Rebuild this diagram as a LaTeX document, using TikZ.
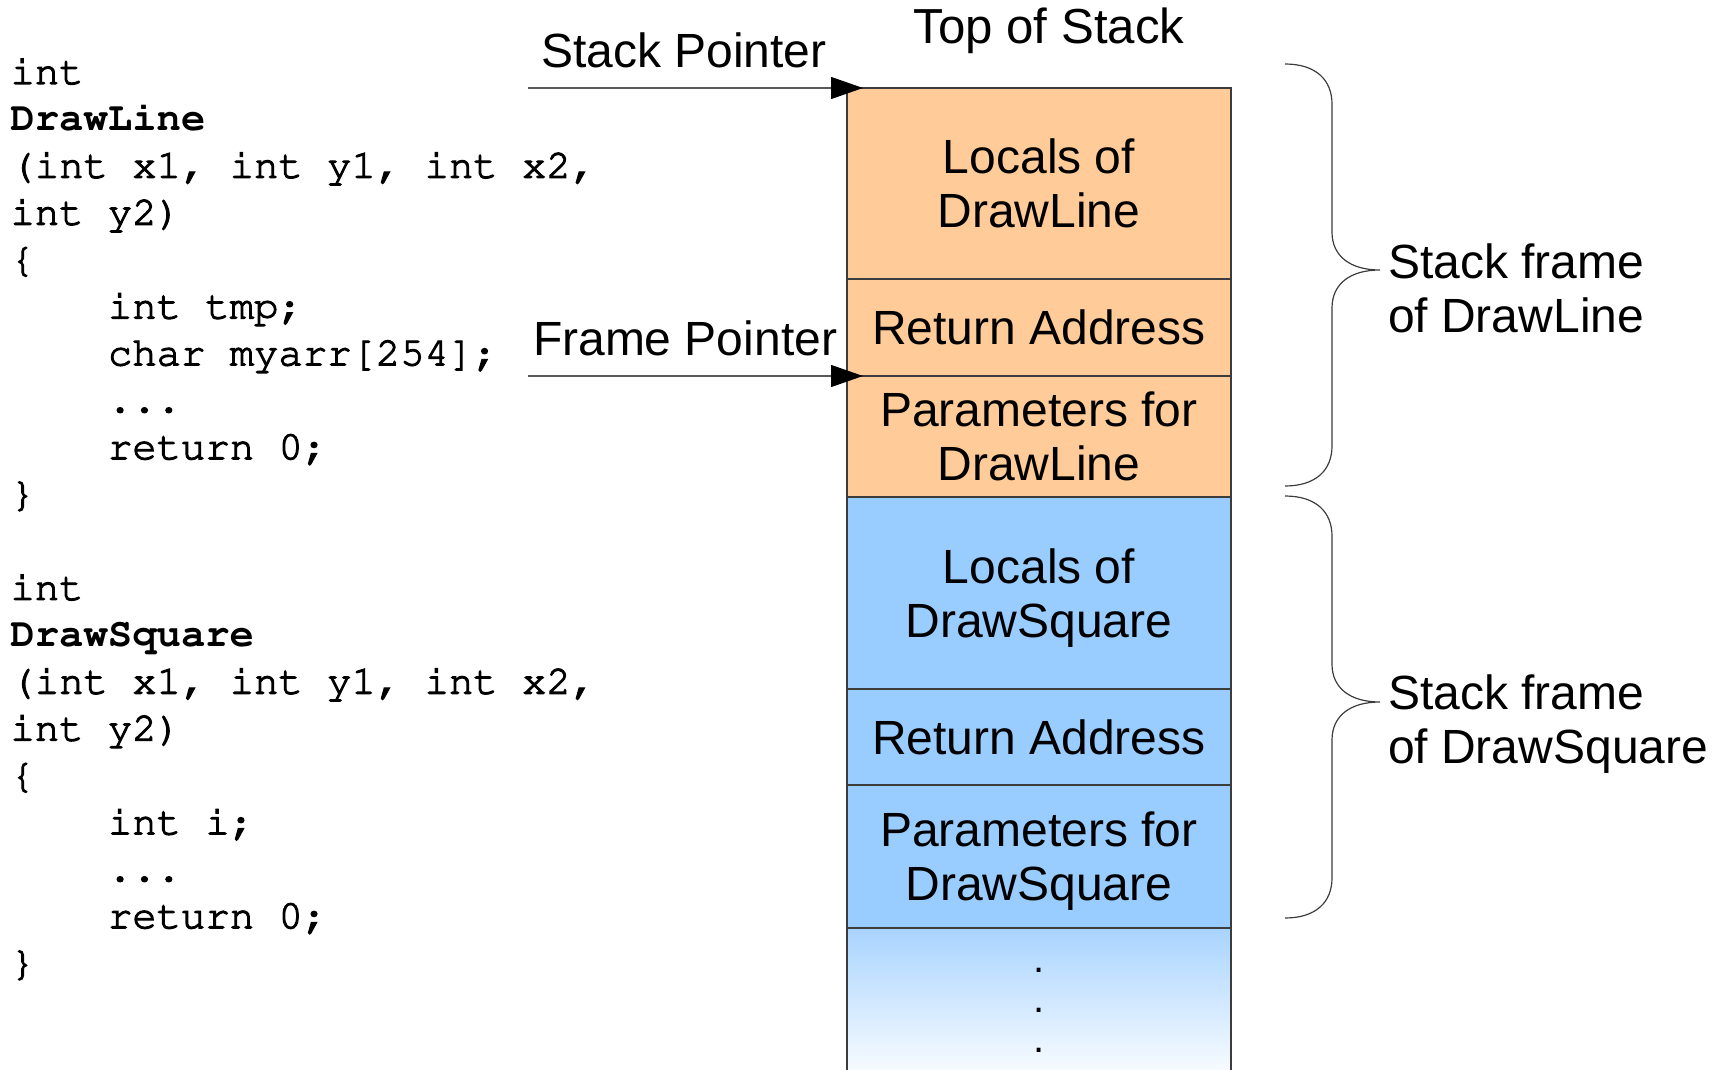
\documentclass[tikz,border=0pt]{standalone}
\usepackage[T1]{fontenc}
\usepackage{fontspec}
\setmainfont{Liberation Sans}
\usetikzlibrary{arrows.meta}

\definecolor{frameorange}{HTML}{FFCC99}
\definecolor{frameblue}{HTML}{99CCFF}
\definecolor{edgegray}{HTML}{3C3C3C}
\definecolor{ptrgray}{HTML}{5A5A5A}

\newcommand\labelfont{\fontsize{24pt}{27pt}\selectfont}
% Courier (Type 1) for the C listing
\newcommand\codesize{\fontencoding{T1}\fontfamily{pcr}\fontsize{20.3pt}{23.45pt}\selectfont}
\newcommand\ind{\hphantom{xxxx}}
% slightly heavier strokes for the listing (fill + stroke text mode)
\newcommand\heavyon{\special{pdf:literal direct 2 Tr 0.55 w}}
\newcommand\heavyoff{\special{pdf:literal direct 0 Tr}}
\newcommand\fname[1]{\heavyoff\bfseries #1}

\tikzset{
  cell/.style={draw=edgegray, line width=0.75pt, minimum width=192pt,
    inner sep=0pt, outer sep=0pt, align=center, text depth=0pt,
    font=\labelfont},
  orangecell/.style={cell, fill=frameorange},
  bluecell/.style={cell, fill=frameblue},
  lbl/.style={inner sep=0pt, outer sep=0pt, font=\labelfont},
  codeline/.style={inner sep=0pt, outer sep=0pt, anchor=base west, font=\codesize,
    execute at begin node=\heavyon, execute at end node=\heavyoff},
  ptr/.style={draw=ptrgray, line width=0.6pt,
    -{Triangle[length=16pt, width=11pt, color=black]}},
  bracestroke/.style={draw=edgegray, line width=0.6pt},
  framebrace/.pic={
    \draw[bracestroke] (0,0) .. controls (31,0) and (47,16) .. (47,40)
      -- (47,168) .. controls (47,192) and (65,206) .. (95,206)
      .. controls (65,206) and (47,220) .. (47,244)
      -- (47,382) .. controls (47,406) and (31,422) .. (0,422);
  }
}

\begin{document}
\begin{tikzpicture}[x=0.5pt, y=-0.5pt]
\useasboundingbox (0,0) rectangle (1726,1070);

% ---- source code of the two functions ----
\node[codeline] (a1) at (10.5,84.0)  {int};
\node[codeline] (a2) at (10.5,130.9) {\fname{DrawLine}};
\node[codeline] (a3) at (10.5,177.8) {(int x1, int y1, int x2,};
\node[codeline] (a4) at (10.5,224.7) {int y2)};
\node[codeline] (a5) at (10.5,271.6) {\{};
\node[codeline] (a6) at (10.5,318.5) {\ind int tmp;};
\node[codeline] (a7) at (10.5,365.4) {\ind char myarr[254];};
\node[codeline] (a8) at (10.5,412.3) {\ind ...};
\node[codeline] (a9) at (10.5,459.2) {\ind return 0;};
\node[codeline] (a10) at (10.5,506.1) {\}};

\node[codeline] (b1) at (10.5,599.9) {int};
\node[codeline] (b2) at (10.5,646.8) {\fname{DrawSquare}};
\node[codeline] (b3) at (10.5,693.7) {(int x1, int y1, int x2,};
\node[codeline] (b4) at (10.5,740.6) {int y2)};
\node[codeline] (b5) at (10.5,787.5) {\{};
\node[codeline] (b6) at (10.5,834.4) {\ind int i;};
\node[codeline] (b7) at (10.5,881.3) {\ind ...};
\node[codeline] (b8) at (10.5,928.2) {\ind return 0;};
\node[codeline] (b9) at (10.5,975.1) {\}};

% ---- the stack, top to bottom ----
\node[orangecell, minimum height=95.5pt] (cA) at (1039,183.5) {Locals of\\DrawLine};
\node[orangecell, minimum height=48.5pt] (cB) at (1039,327.5) {Return Address};
\node[orangecell, minimum height=60.5pt] (cC) at (1039,436.5) {Parameters for\\DrawLine};
\node[bluecell, minimum height=96pt]     (cD) at (1039,593)   {Locals of\\DrawSquare};
\node[bluecell, minimum height=48pt]     (cE) at (1039,737)   {Return Address};
\node[bluecell, minimum height=71.5pt]   (cF) at (1039,856.5) {Parameters for\\DrawSquare};
\node[cell, minimum height=78.5pt, top color=frameblue!85!white,
      bottom color=white] (cG) at (1039,1006.5) {};
\node[lbl, align=center, text depth=0pt, anchor=south,
      font=\fontsize{20pt}{20pt}\selectfont] (more) at (1039,1052) {.\\.\\.};

\node[lbl, anchor=base, font=\fontsize{24.6pt}{28pt}\selectfont] (tos) at (1049,44) {Top of Stack};

% ---- pointers ----
\node[lbl, anchor=base west] (spLabel) at (541,68)  {Stack Pointer};
\node[lbl, anchor=base west] (fpLabel) at (533,355) {Frame Pointer};
\coordinate (spTail) at (528,88);
\coordinate (fpTail) at (528,376);
\draw[ptr] (spTail) -- ([xshift=8pt]cA.north west);
\draw[ptr] (fpTail) -- ([xshift=8pt]cC.north west);

% ---- frame braces ----
\pic (braceA) at (1285,64)  {framebrace};
\pic (braceB) at (1285,496) {framebrace};
\node[lbl, align=left, text depth=0pt, anchor=south west] (sfA) at (1388,332.5)
  {Stack frame\\of DrawLine};
\node[lbl, align=left, text depth=0pt, anchor=south west] (sfB) at (1388,763)
  {Stack frame\\of DrawSquare};
\end{tikzpicture}
\end{document}
